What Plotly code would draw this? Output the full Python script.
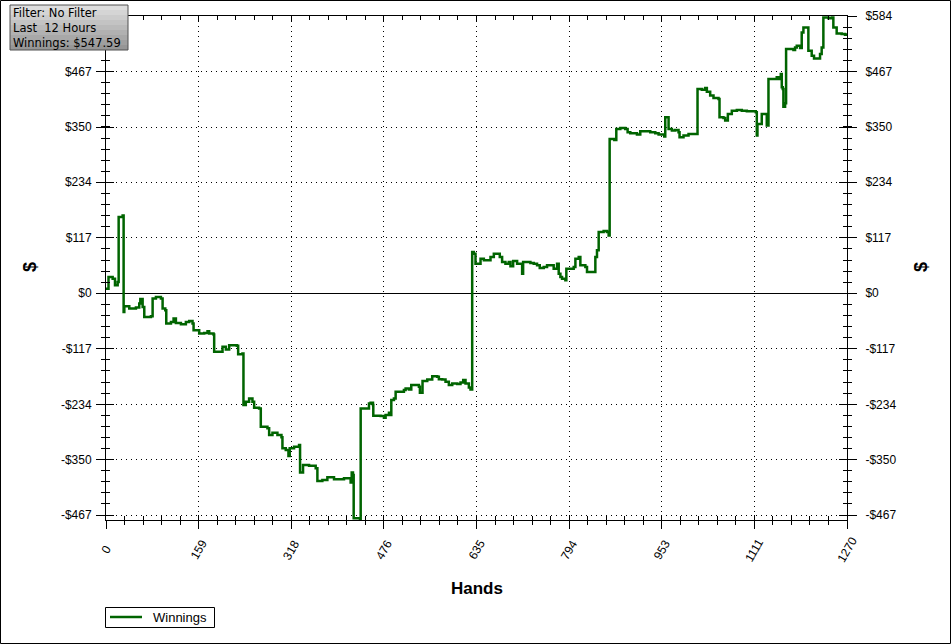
import plotly.graph_objects as go

# ---------------- data ----------------
hands = [
    0, 4.3, 11.4, 15.4, 20.0, 21.7, 28.5, 30.2, 31.4, 39.9, 51.3, 57.0, 58.8, 62.8, 65.6, 77.0,
    79.9, 85.6, 94.1, 97.0, 101.6, 103.3, 111.3, 115.8, 119.8, 128.4, 136.9, 142.6, 148.3, 150.1,
    159.7, 168.3, 174.0, 176.9, 184.3, 185.4, 199.7, 205.4, 211.1, 224.2, 226.5, 233.9, 235.6,
    239.6, 245.3, 251.0, 253.9, 262.4, 265.3, 276.7, 279.6, 285.3, 293.8, 300.7, 302.4, 308.1,
    312.7, 314.9, 322.3, 330.9, 332.6, 337.7, 348.0, 359.4, 362.3, 370.8, 379.4, 390.8, 407.9,
    419.3, 421.1, 423.3, 424.5, 435.3, 436.5, 450.7, 453.6, 457.6, 458.1, 470.7, 476.4, 479.2,
    485.0, 487.8, 489.0, 493.5, 496.4, 510.6, 513.5, 519.2, 523.2, 536.3, 538.0, 542.5, 550.6,
    559.1, 567.7, 570.5, 576.2, 581.9, 587.6, 593.4, 601.9, 607.6, 612.2, 616.2, 621.9, 624.7,
    627.6, 630.4, 633.3, 641.9, 647.6, 659.0, 664.7, 674.9, 678.9, 684.6, 690.3, 693.2, 697.8,
    704.6, 713.2, 714.9, 727.4, 733.1, 738.8, 743.4, 750.2, 755.9, 767.3, 773.1, 775.9, 778.8,
    781.6, 787.3, 789.0, 801.6, 804.5, 810.2, 813.0, 821.6, 824.4, 838.7, 841.5, 844.4, 852.9,
    858.6, 861.5, 863.2, 871.2, 874.6, 881.5, 890.0, 894.0, 898.6, 910.0, 915.7, 932.8, 941.4,
    947.1, 956.8, 958.5, 964.2, 969.9, 975.6, 981.3, 983.0, 989.8, 998.4, 1013.8, 1021.2, 1026.9,
    1029.8, 1035.5, 1041.2, 1049.8, 1051.5, 1058.3, 1061.2, 1065.8, 1072.6, 1081.2, 1089.7,
    1098.3, 1113.7, 1115.4, 1116.5, 1123.9, 1132.5, 1135.4, 1149.6, 1152.5, 1156.5, 1158.2,
    1159.9, 1161.0, 1163.9, 1165.6, 1178.2, 1181.0, 1183.9, 1189.6, 1192.4, 1195.3, 1203.8,
    1209.5, 1213.5, 1223.8, 1226.6, 1229.5, 1238.1, 1243.8, 1246.6, 1252.3, 1260.9, 1266.6, 1270,
]
winnings = [
    9.8, 34.3, 30.8, 16.8, 23.8, 160.5, 164.0, -39.2, -27.3, -32.2, -30.1, -21.7, -11.9, -28.7, -49.8, -48.4,
    -11.2, -7.7, -11.2, -32.2, -35.7, -63.8, -60.3, -53.3, -62.4, -65.2, -60.3, -58.2, -63.8, -77.8,
    -84.8, -83.4, -79.9, -84.8, -86.9, -123.3, -112.8, -118.4, -109.3, -110.7, -128.2, -126.8, -235.5,
    -228.5, -221.4, -228.5, -241.1, -242.5, -281.0, -284.5, -298.5, -293.6, -298.5, -303.4, -326.5, -330.0,
    -342.7, -326.5, -323.0, -319.5, -377.7, -361.6, -363.0, -368.6, -395.2, -393.1, -387.5, -391.7, -389.6,
    -398.7, -377.7, -382.6, -473.7, -475.8, -242.5, -231.9, -230.5, -235.5, -257.9, -258.6, -262.1, -256.5,
    -251.6, -256.5, -224.9, -221.4, -207.4, -203.9, -200.4, -202.5, -193.4, -196.9, -209.5, -185.0, -181.5,
    -174.5, -175.9, -180.8, -181.5, -186.4, -193.4, -189.9, -191.3, -187.8, -182.9, -189.9, -198.3, -202.5,
    86.9, 83.4, 62.4, 72.9, 69.4, 76.4, 83.4, 76.4, 65.9, 62.4, 65.9, 56.8, 68.0,
    62.4, 41.3, 65.9, 63.8, 62.4, 58.9, 53.3, 55.4, 58.9, 51.9, 62.4, 41.3, 34.3,
    30.8, 27.3, 51.9, 55.4, 72.9, 76.4, 58.9, 55.4, 44.8, 76.4, 90.4, 128.9, 131.0,
    128.9, 121.9, 325.2, 323.0, 346.2, 348.3, 346.2, 339.2, 337.0, 334.3, 341.3, 339.2, 337.0,
    334.3, 330.0, 370.7, 346.2, 342.7, 344.1, 339.2, 328.6, 332.2, 335.7, 430.3, 428.9, 432.4,
    424.7, 416.3, 411.3, 409.2, 370.7, 369.3, 363.7, 377.7, 384.7, 386.1, 384.7,
    383.3, 381.2, 332.2, 356.7, 377.7, 353.2, 451.3, 454.8, 451.3, 461.8, 433.8,
    430.3, 393.1, 400.1, 514.4, 512.3, 517.9, 521.4, 516.5, 549.4, 559.9, 510.9,
    500.3, 494.7, 503.8, 517.9, 580.9, 579.5, 580.9, 559.9, 547.3, 545.9, 544.5, 547.59,
]

x_tick_values = [0, 158.75, 317.5, 476.25, 635, 793.75, 952.5, 1111.25, 1270]
x_tick_labels = ["0", "159", "318", "476", "635", "794", "953", "1111", "1270"]
y_tick_values = [-467, -350, -234, -117, 0, 117, 234, 350, 467, 584]
y_tick_labels = ["-$467", "-$350", "-$234", "-$117", "$0", "$117", "$234", "$350", "$467", "$584"]

filter_lines = ["Filter: No Filter", "Last  12 Hours", "Winnings: $547.59"]
series_name = "Winnings"
x_title = "Hands"
y_title = "$"

# ---------------- layout geometry ----------------
W, H = 951, 644
L, R, T, B = 106, 104, 16, 124
PW, PH = W - L - R, H - T - B
X_RANGE = [0, 1270]
Y_RANGE = [-477.5, 584]


def px2x(px):
    return (px - L) / PW


def py2y(py):
    return (H - B - py) / PH


LINE_COLOR = "#006400"
LINE_WIDTH = 2.5
FONT = "Liberation Sans, Arial, sans-serif"

fig = go.Figure()
fig.add_trace(go.Scatter(
    x=hands, y=winnings, mode="lines", name=series_name,
    line=dict(color=LINE_COLOR, width=LINE_WIDTH, shape="hv"),
    xaxis="x", yaxis="y", showlegend=False,
))
# invisible helpers so the overlay axes (crossing ticks / right labels) are drawn
fig.add_trace(go.Scatter(x=[None], y=[None], xaxis="x2", yaxis="y2",
                         showlegend=False, hoverinfo="skip"))
fig.add_trace(go.Scatter(x=[None], y=[None], xaxis="x", yaxis="y3",
                         showlegend=False, hoverinfo="skip"))

tickfont = dict(family=FONT, size=12, color="black")
grid_dash = "1px,4px"

fig.update_layout(
    width=W, height=H,
    margin=dict(l=L, r=R, t=T, b=B, pad=0, autoexpand=False),
    paper_bgcolor="white", plot_bgcolor="white",
    showlegend=False,
    xaxis=dict(
        range=X_RANGE, tickmode="array", tickvals=x_tick_values, ticktext=x_tick_labels,
        showticklabels=False,
        ticks="outside", ticklen=8, tickwidth=1, tickcolor="black",
        minor=dict(tickmode="linear", tick0=0, dtick=31.75, ticks="outside",
                   ticklen=4, tickwidth=1, tickcolor="black", showgrid=False),
        showline=True, linecolor="black", linewidth=1, mirror=True,
        showgrid=True, gridcolor="black", gridwidth=1, griddash=grid_dash,
        zeroline=False, anchor="y", fixedrange=True,
    ),
    xaxis2=dict(
        range=X_RANGE, overlaying="x", anchor="y", side="bottom",
        tickmode="array", tickvals=x_tick_values, showticklabels=False,
        ticks="inside", ticklen=5, tickwidth=1, tickcolor="black",
        minor=dict(tickmode="linear", tick0=0, dtick=31.75, ticks="inside",
                   ticklen=4, tickwidth=1, tickcolor="black", showgrid=False),
        showline=True, linecolor="black", linewidth=1, mirror="ticks",
        showgrid=False, zeroline=False,
    ),
    yaxis=dict(
        range=Y_RANGE, tickmode="array", tickvals=y_tick_values, ticktext=y_tick_labels,
        tickfont=tickfont, side="left",
        ticks="outside", ticklen=9, tickwidth=1, tickcolor="black",
        minor=dict(tickmode="linear", tick0=0, dtick=23.356, ticks="outside",
                   ticklen=4, tickwidth=1, tickcolor="black", showgrid=False),
        showline=True, linecolor="black", linewidth=1, mirror=True,
        showgrid=True, gridcolor="black", gridwidth=1, griddash=grid_dash,
        zeroline=True, zerolinecolor="black", zerolinewidth=1,
        anchor="x", ticklabelstandoff=2,
    ),
    yaxis2=dict(
        range=Y_RANGE, overlaying="y", anchor="x", side="left",
        tickmode="array", tickvals=y_tick_values, showticklabels=False,
        ticks="inside", ticklen=8, tickwidth=1, tickcolor="black",
        minor=dict(tickmode="linear", tick0=0, dtick=23.356, ticks="inside",
                   ticklen=4, tickwidth=1, tickcolor="black", showgrid=False),
        showline=True, linecolor="black", linewidth=1, mirror="ticks",
        showgrid=False, zeroline=False,
    ),
    yaxis3=dict(
        range=Y_RANGE, overlaying="y", anchor="x", side="right",
        tickmode="array", tickvals=y_tick_values, ticktext=y_tick_labels,
        tickfont=tickfont,
        ticks="outside", ticklen=9, tickwidth=1, tickcolor="black",
        minor=dict(tickmode="linear", tick0=0, dtick=23.356, ticks="outside",
                   ticklen=4, tickwidth=1, tickcolor="black", showgrid=False),
        showline=True, linecolor="black", linewidth=1,
        showgrid=False, zeroline=False, ticklabelstandoff=6,
    ),
)

annotations = []
# rotated x tick labels, centred on their ticks
for v, t in zip(x_tick_values, x_tick_labels):
    annotations.append(dict(
        x=v, xref="x", y=py2y(550), yref="paper", text=t, showarrow=False,
        textangle=-60, xanchor="center", yanchor="middle",
        font=dict(family=FONT, size=12, color="black"),
    ))
annotations.append(dict(
    x=px2x(476.5), y=py2y(588), xref="paper", yref="paper", text="<b>%s</b>" % x_title,
    showarrow=False, xanchor="center", yanchor="middle",
    font=dict(family=FONT, size=17, color="black"),
))
for xp in (30, 921):
    annotations.append(dict(
        x=px2x(xp), y=py2y(267), xref="paper", yref="paper", text="<b>%s</b>" % y_title,
        showarrow=False, xanchor="center", yanchor="middle", textangle=-90,
        font=dict(family=FONT, size=18, color="black"),
    ))
# filter info box text (one block, three lines)
annotations.append(dict(
    x=px2x(11), y=py2y(27.5), xref="paper", yref="paper", text="<br>".join(filter_lines),
    showarrow=False, xanchor="left", yanchor="middle", align="left",
    font=dict(family="DejaVu Sans, sans-serif", size=11.5, color="black"),
))
# legend key text
annotations.append(dict(
    x=px2x(151), y=py2y(617), xref="paper", yref="paper", text=series_name,
    showarrow=False, xanchor="left", yanchor="middle",
    font=dict(family=FONT, size=13, color="black"),
))
fig.update_layout(annotations=annotations)

shapes = []
# outer frame of the control
shapes.append(dict(type="rect", xref="paper", yref="paper",
                   x0=px2x(0.5), x1=px2x(950.5), y0=py2y(643.5), y1=py2y(0.5),
                   line=dict(color="black", width=1), fillcolor="rgba(0,0,0,0)", layer="above"))
# gradient grey info box
bx0, bx1, by0, by1 = 10, 128, 5, 50
n = 9
c_top, c_bot = (222, 222, 222), (150, 150, 150)
for i in range(n):
    f = i / (n - 1)
    c = tuple(round(a + (b - a) * f) for a, b in zip(c_top, c_bot))
    ya = by0 + (by1 - by0) * i / n
    yb = by0 + (by1 - by0) * (i + 1) / n
    shapes.append(dict(type="rect", xref="paper", yref="paper",
                       x0=px2x(bx0), x1=px2x(bx1), y0=py2y(yb), y1=py2y(ya),
                       line=dict(width=0), fillcolor="rgb(%d,%d,%d)" % c, layer="above"))
shapes.append(dict(type="rect", xref="paper", yref="paper",
                   x0=px2x(bx0), x1=px2x(bx1), y0=py2y(by1), y1=py2y(by0),
                   line=dict(color="#505050", width=1), fillcolor="rgba(0,0,0,0)", layer="above"))
# legend box and key line
shapes.append(dict(type="rect", xref="paper", yref="paper",
                   x0=px2x(105.5), x1=px2x(214.5), y0=py2y(627.5), y1=py2y(607.5),
                   line=dict(color="black", width=1), fillcolor="white", layer="above"))
shapes.append(dict(type="line", xref="paper", yref="paper",
                   x0=px2x(110), x1=px2x(142), y0=py2y(617), y1=py2y(617),
                   line=dict(color=LINE_COLOR, width=LINE_WIDTH), layer="above"))
fig.update_layout(shapes=shapes)

fig.write_html(
    "out.html",
    config={"displayModeBar": False},
    post_script="document.body.style.margin='0';document.body.style.overflow='hidden';",
)
